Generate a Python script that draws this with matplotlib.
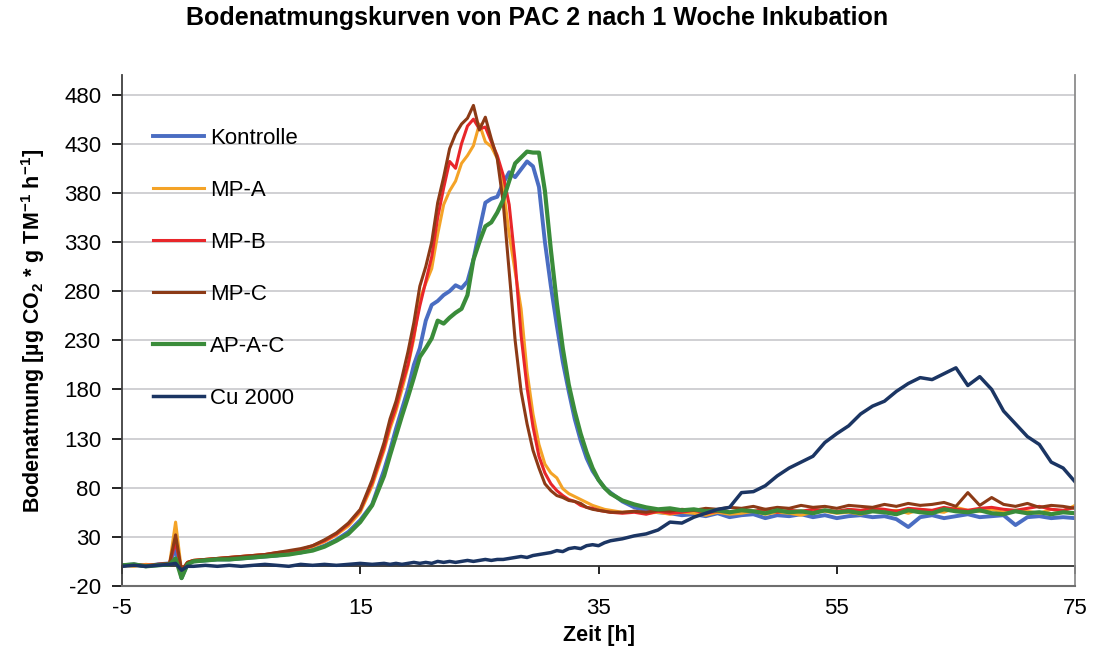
import numpy as np
import matplotlib
matplotlib.use("Agg")
import matplotlib.pyplot as plt

plt.rcParams['font.family'] = ['Liberation Sans', 'DejaVu Sans']
plt.rcParams['mathtext.fontset'] = 'custom'
plt.rcParams['mathtext.rm'] = 'Liberation Sans:bold'
plt.rcParams['mathtext.default'] = 'rm'
plt.rcParams['axes.unicode_minus'] = False

# Zeitpunkte [h]
zeit = np.concatenate([np.arange(-5, 0, 1), [-0.5, 0, 0.5], np.arange(1, 18),
                       np.arange(17.5, 36.5, 0.5), np.arange(37, 76)])

kontrolle = [1, 2, 0, 2, 3, 18, -12, 3,
             5, 6, 7, 7, 8, 9, 10, 11, 13, 14, 17, 21, 27, 35, 47, 63, 98,
             118, 140, 160, 180, 205, 222, 250, 266, 270, 276, 280, 286, 283, 290, 312, 342, 370, 374, 376,
             390, 401, 396, 404, 412, 407, 386, 330, 285, 245, 208, 178, 150, 128, 110, 97, 88, 80, 75,
             66, 60, 57, 55, 54, 52, 53, 51, 54, 50, 52, 53, 49, 52, 51, 53, 50, 52, 49, 51,
             52, 50, 51, 48, 40, 50, 52, 49, 51, 53, 50, 51, 52, 42, 50, 51, 49, 50, 49]

mp_a = [1, 0, 2, 1, 3, 45, -5, 4,
        6, 7, 8, 9, 10, 11, 12, 13, 15, 17, 20, 25, 32, 41, 55, 82, 118,
        140, 158, 180, 203, 232, 272, 288, 303, 338, 368, 382, 392, 410, 418, 428, 450, 432, 427, 415,
        385, 338, 300, 262, 198, 155, 124, 104, 95, 90, 79, 74, 71, 68, 65, 62, 60, 58, 57,
        55, 56, 54, 55, 53, 55, 54, 52, 55, 53, 54, 56, 53, 55, 54, 52, 55, 56, 54, 55,
        53, 56, 55, 57, 54, 58, 56, 55, 60, 57, 56, 58, 55, 57, 56, 54, 58, 56, 62]

mp_b = [0, 2, 1, 2, 3, 25, -4, 4,
        6, 7, 8, 9, 10, 11, 12, 14, 15, 17, 21, 26, 33, 43, 57, 85, 121,
        144, 162, 185, 205, 235, 265, 290, 315, 355, 385, 412, 405, 430, 448, 455, 445, 447, 432, 418,
        398, 368, 310, 235, 182, 142, 112, 95, 84, 77, 72, 68, 66, 62, 60, 59, 57, 56, 55,
        54, 55, 53, 56, 54, 55, 57, 54, 56, 55, 57, 56, 58, 55, 57, 56, 58, 57, 56, 58,
        57, 59, 58, 56, 59, 58, 57, 60, 58, 57, 59, 60, 58, 57, 59, 61, 58, 57, 60]

mp_c = [1, 2, 0, 2, 3, 32, -5, 4,
        6, 7, 8, 9, 10, 11, 12, 14, 16, 18, 21, 27, 34, 44, 58, 88, 126,
        150, 168, 192, 218, 248, 285, 305, 330, 370, 396, 425, 440, 450, 456, 469, 444, 457, 435, 415,
        370, 300, 230, 178, 145, 118, 100, 84, 77, 72, 70, 67, 66, 64, 60, 58, 57, 56, 55,
        55, 56, 55, 57, 56, 58, 57, 59, 58, 60, 59, 61, 58, 60, 59, 62, 60, 61, 59, 62,
        61, 60, 63, 61, 64, 62, 63, 65, 61, 75, 62, 70, 63, 61, 64, 60, 62, 61, 59]

ap_a_c = [1, 2, 0, 1, 2, 8, -12, 2,
          5, 6, 7, 7, 8, 9, 10, 11, 12, 14, 16, 20, 26, 33, 45, 62, 92,
          113, 133, 153, 172, 192, 213, 222, 232, 250, 247, 253, 258, 262, 276, 312, 330, 346, 350, 360,
          373, 392, 410, 416, 422, 421, 421, 382, 322, 268, 222, 185, 158, 135, 116, 100, 88, 80, 74,
          67, 63, 60, 58, 59, 57, 58, 56, 57, 55, 57, 56, 54, 57, 55, 56, 54, 57, 55, 56,
          54, 56, 55, 53, 57, 55, 54, 58, 56, 55, 57, 54, 53, 56, 54, 55, 53, 55, 54]

cu_2000 = [0, 1, 0, 1, 2, 3, -4, 0,
           0, 1, 0, 1, 0, 1, 2, 1, 0, 2, 1, 2, 1, 2, 3, 2, 3,
           2, 3, 2, 3, 4, 3, 4, 3, 5, 4, 5, 4, 5, 6, 5, 6, 7, 6, 7,
           7, 8, 9, 10, 9, 11, 12, 13, 14, 16, 15, 18, 19, 18, 21, 22, 21, 24, 26,
           28, 31, 33, 37, 45, 44, 50, 54, 58, 60, 75, 76, 82, 92, 100, 106, 112, 126, 135, 143,
           155, 163, 168, 178, 186, 192, 190, 196, 202, 184, 193, 180, 158, 145, 132, 124, 106, 100, 86]

serien = [
    ("Kontrolle", kontrolle, "#4A6DC2", 2.8),
    ("MP-A", mp_a, "#F4A327", 2.2),
    ("MP-B", mp_b, "#E8262A", 2.2),
    ("MP-C", mp_c, "#8C3A16", 2.2),
    ("AP-A-C", ap_a_c, "#3A8C3A", 3.0),
    ("Cu 2000", cu_2000, "#1B3563", 2.5),
]

fig = plt.figure(figsize=(10.98, 6.5), dpi=100)
ax = fig.add_axes([0.1111, 0.0985, 0.8680, 0.7862])

for name, werte, farbe, lw in serien:
    ax.plot(zeit, werte, color=farbe, linewidth=lw, label=name)

ax.set_xlim(-5, 75)
ax.set_ylim(-20, 500)
ax.set_xticks([-5, 15, 35, 55, 75])
ax.set_yticks(np.arange(-20, 481, 50))
ax.yaxis.grid(True, color='#C8C8CC', linewidth=1.2)
ax.set_axisbelow(True)

ax.spines['top'].set_visible(False)
ax.spines['left'].set_color('#404040')
ax.spines['left'].set_linewidth(1.3)
ax.spines['right'].set_color('#8C8C8C')
ax.spines['right'].set_linewidth(1.3)
ax.spines['bottom'].set_color('#6E6E6E')
ax.spines['bottom'].set_linewidth(1.5)

ax.tick_params(axis='y', direction='out', length=7, width=1.2, pad=8, labelsize=16)
ax.tick_params(axis='x', length=0, pad=9, labelsize=16)

# Rubrikenachse bei y = 0
sec = ax.secondary_xaxis(20 / 520)
sec.set_xticks([-5, 15, 35, 55, 75])
sec.tick_params(direction='out', length=6, width=1.2, labelbottom=False, labeltop=False)
sec.spines['bottom'].set_color('#303030')
sec.spines['bottom'].set_linewidth(1.3)
sec.spines['top'].set_color('#303030')

ax.set_xlabel('Zeit [h]', fontsize=15.5, fontweight='bold', labelpad=4)
ax.set_ylabel(r'Bodenatmung [µg CO$_2$ * g TM$^{-1}$ h$^{-1}$]', fontsize=15.5,
              fontweight='bold', labelpad=12)

fig.text(0.489, 0.972, 'Bodenatmungskurven von PAC 2 nach 1 Woche Inkubation',
         ha='center', va='center', fontsize=18, fontweight='bold')

ax.legend(loc='upper left', bbox_to_anchor=(0.0325, 0.897), frameon=False,
          fontsize=16, handlelength=2.3, handletextpad=0.25, labelspacing=1.4,
          borderpad=0, borderaxespad=0)

fig.savefig('out.png', dpi=100)
